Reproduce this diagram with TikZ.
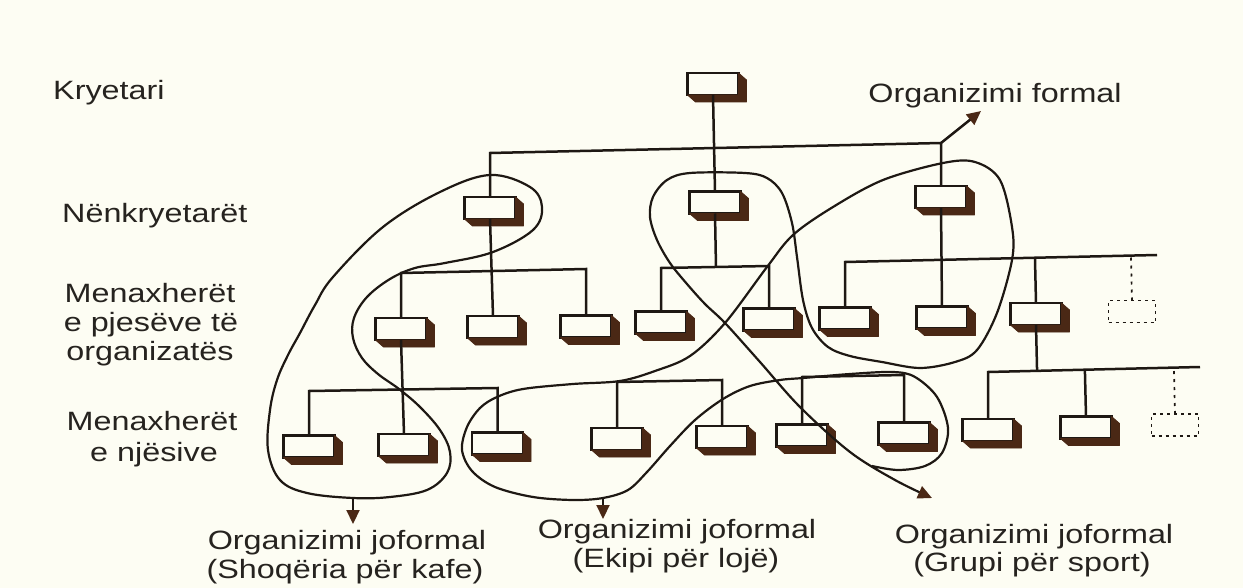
\documentclass[tikz,border=0pt]{standalone}
\usepackage{fontspec}
\newfontfamily\lblfont[FakeStretch=1.22]{Liberation Sans}
\usetikzlibrary{calc,arrows.meta}
\definecolor{paper}{RGB}{253,253,243}
\definecolor{ink}{RGB}{30,24,19}
\definecolor{ext}{RGB}{74,40,21}
\definecolor{txt}{RGB}{38,35,31}
\begin{document}
\begin{tikzpicture}[x=1pt,y=-1pt,
  bx/.style={draw=ink,line width=2.6pt,fill=paper,minimum width=51pt,minimum height=22pt,inner sep=0pt,outer sep=0pt},
  dbx/.style={draw=ink,line width=1.8pt,dash pattern=on 3pt off 4pt,minimum width=47pt,minimum height=22pt,inner sep=0pt,outer sep=0pt},
  link/.style={draw=ink,line width=2.5pt},
  dlink/.style={draw=ink,line width=1.7pt,dash pattern=on 3pt off 5pt},
  loopline/.style={draw=ink,line width=2.2pt,line join=round},
  arrowed/.style={-{Triangle[length=14pt,width=13pt,color=ext]}},
  lbl/.style={font=\lblfont\fontsize{26.5}{30}\selectfont,text=txt,inner sep=0pt,anchor=base}
]
% paper
\fill[paper] (0,0) rectangle (1243,588);
\useasboundingbox (0,0) rectangle (1243,588);

% ---- formal chart: boxes ----
\node[bx] (T)  at (713,84) {};
\node[bx] (VL) at (490,208) {};
\node[bx] (VM) at (715,202.5) {};
\node[bx] (VR) at (941,197) {};
\node[bx] (A) at (401,329) {};
\node[bx] (B) at (493,327) {};
\node[bx] (C) at (586,326.5) {};
\node[bx] (D) at (661,322.5) {};
\node[bx] (E) at (769,319.5) {};
\node[bx] (F) at (845,318.5) {};
\node[bx] (G) at (942,317.5) {};
\node[bx] (H) at (1036,314) {};
\node[dbx] (R1) at (1132,311.5) {};
\node[bx] (I) at (309,446.5) {};
\node[bx] (J) at (404,445) {};
\node[bx] (K) at (497.5,443.5) {};
\node[bx] (L) at (617,439) {};
\node[bx] (M) at (722,437) {};
\node[bx] (N) at (802,435.5) {};
\node[bx] (O) at (904,433.5) {};
\node[bx] (P) at (988,430) {};
\node[bx] (Q) at (1086,427.5) {};
\node[dbx] (R2) at (1175,425) {};

% 3-D depth of each box
\foreach \n in {T,VL,VM,VR,A,B,C,D,E,F,G,H,I,J,K,L,M,N,O,P,Q}
  \filldraw[ext,line width=0.8pt,line join=round] (\n.north east) -- ([shift={(8,7)}]\n.north east) -- ([shift={(8,7)}]\n.south east)
     -- ([shift={(8,7)}]\n.south west) -- (\n.south west) -- (\n.south east) -- cycle;

% ---- formal chart: connectors ----
\coordinate (b1l) at (VL.north |- 0,153);
\coordinate (b1r) at (VR.north |- 0,143);
\coordinate (formaltip) at (981,111);
\draw[link] (VL.north) -- (b1l) -- (b1r) -- (VR.north);
\draw[link] (T.south) -- (VM.north);
\draw[link,arrowed] (b1r) -- (formaltip);

\coordinate (b2l) at (A.north |- 0,273);
\coordinate (b2r) at (C.north |- 0,269);
\draw[link] (A.north) -- (b2l) -- (b2r) -- (C.north);
\draw[link] (VL.south) -- (B.north);

\coordinate (b2ml) at (D.north |- 0,268);
\coordinate (b2mr) at (E.north |- 0,266);
\draw[link] (D.north) -- (b2ml) -- (b2mr) -- (E.north);
\draw[link] (VM.south) -- ($(b2ml)!(VM.south)!(b2mr)$);

\coordinate (b2rl) at (F.north |- 0,262);
\coordinate (b2rr) at (1157,255);
\draw[link] (F.north) -- (b2rl) -- (b2rr);
\draw[link] (VR.south) -- (G.north);
\draw[link] (H.north) -- ($(b2rl)!(H.north)!(b2rr)$);
\draw[dlink] (R1.north) -- ($(b2rl)!(R1.north)!(b2rr)$);

\coordinate (b3al) at (I.north |- 0,391);
\coordinate (b3ar) at (K.north |- 0,388);
\draw[link] (I.north) -- (b3al) -- (b3ar) -- (K.north);
\draw[link] (A.south) -- (J.north);

\coordinate (b3ml) at (L.north |- 0,382);
\coordinate (b3mr) at (M.north |- 0,380);
\draw[link] (L.north) -- (b3ml) -- (b3mr) -- (M.north);

\coordinate (b3nl) at (N.north |- 0,377);
\coordinate (b3nr) at (O.north |- 0,375);
\draw[link] (N.north) -- (b3nl) -- (b3nr) -- (O.north);

\coordinate (b3rl) at (P.north |- 0,372);
\coordinate (b3rr) at (1200,367);
\draw[link] (P.north) -- (b3rl) -- (b3rr);
\draw[link] (H.south) -- ($(b3rl)!(H.south)!(b3rr)$);
\draw[link] (Q.north) -- ($(b3rl)!(Q.north)!(b3rr)$);
\draw[dlink] (R2.north) -- ($(b3rl)!(R2.north)!(b3rr)$);

% ---- informal groups ----
% coffee group
\draw[loopline] plot[smooth cycle, tension=0.6] coordinates {
 (490,175) (530,187) (542,207) (533,230) (493,252) (445,263) (415,268) (390,279)
 (367,297) (354,318) (353,338) (362,358) (378,374) (399,389) (420,407) (440,430)
 (450,452) (447,473) (427,490) (390,497) (353,498) (307,493) (280,480) (268,450)
 (270,410) (277,380) (288,355) (300,333) (315,305) (333,277) (383,227) (440,192)};
\draw[loopline,arrowed] (353,497) -- (353,524);

% game team and sports group
\draw[loopline,arrowed] plot[smooth, tension=0.55] coordinates {
 (872,466) (898,470) (925,466) (942,453) (948,428) (937,397) (915,377) (893,372)
 (850,374) (803,378) (780,380) (750,386) (723,399) (695,420) (670,446) (647,472)
 (628,490) (603,498) (573,500) (533,497) (495,487) (472,471) (462,450) (467,427)
 (480,408) (497,397) (523,389) (573,384) (620,381) (655,371) (690,356) (725,323)
 (767,267) (793,235) (833,207) (883,180) (943,163) (975,162) (1000,180) (1012,227)
 (1012,260) (997,313) (977,350) (955,362) (920,368) (882,362) (850,356) (828,347)
 (812,328) (803,300) (797,257) (792,223) (782,193) (767,178) (745,173) (690,173)
 (667,180) (653,197) (650,217) (657,240) (670,263) (687,284) (705,304) (725,323)
 (760,362) (800,407) (850,452) (895,480) (932,498)};
\draw[loopline,arrowed] (603,497) -- (603,519);

% ---- labels ----
\node[lbl,anchor=base west] (lk) at (53,100) {Kryetari};
\node[lbl,anchor=base west] (ln) at (62,223) {Nënkryetarët};
\node[lbl] (lm1) at (150,302) {Menaxherët};
\node[lbl] (lm2) at (151,331) {e pjesëve të};
\node[lbl] (lm3) at (150,360) {organizatës};
\node[lbl] (lj1) at (152,430) {Menaxherët};
\node[lbl] (lj2) at (154,461) {e njësive};
\node[lbl] (of) at (995,103) {Organizimi formal};
\node[lbl] (s1) at (347,549) {Organizimi joformal};
\node[lbl] (s2) at (345,578) {(Shoqëria për kafe)};
\node[lbl] (e1) at (677,538) {Organizimi joformal};
\node[lbl] (e2) at (676,567) {(Ekipi për lojë)};
\node[lbl] (g1) at (1034,543) {Organizimi joformal};
\node[lbl] (g2) at (1032,571) {(Grupi për sport)};
\end{tikzpicture}
\end{document}
